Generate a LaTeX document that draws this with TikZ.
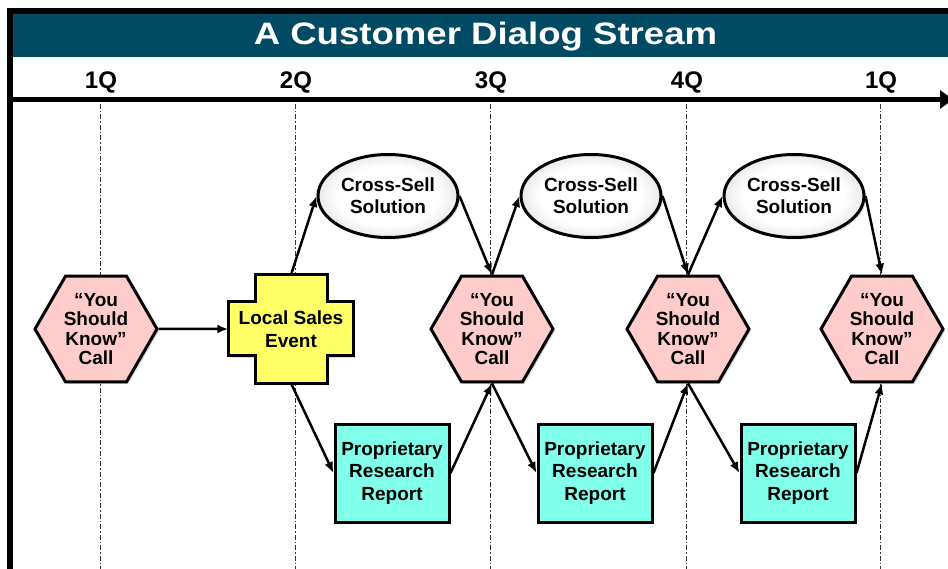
\documentclass[tikz,border=0pt]{standalone}
\usepackage{fontspec}
\setmainfont{Liberation Sans}
\newfontfamily\titlefont[FakeStretch=1.18]{Liberation Sans}
\usetikzlibrary{arrows.meta}
\usetikzlibrary{shapes.geometric}
\usetikzlibrary{shadows}

\definecolor{titlebar}{RGB}{1,74,100}
\definecolor{callpink}{RGB}{255,204,204}
\definecolor{eventyellow}{RGB}{255,255,102}
\definecolor{reportaqua}{RGB}{128,255,234}

\pgfdeclareradialshading{xsellshade}{\pgfpoint{0bp}{0bp}}{color(0bp)=(white); color(18bp)=(white); color(50bp)=(black!38); color(100bp)=(black!38)}

\tikzset{
  softshadow/.style={drop shadow={opacity=0.3, shadow xshift=2pt, shadow yshift=-2pt}},
  boxline/.style={draw, line width=3pt},
  title/.style={font=\titlefont\bfseries\fontsize{31}{32}\selectfont, text=white, anchor=base},
  quarter/.style={font=\bfseries\fontsize{24}{26}\selectfont, anchor=base},
  qline/.style={line width=0.8pt, black!80, dash pattern=on 5pt off 2pt on 1.5pt off 2pt},
  axis/.style={line width=5pt, -{Triangle[length=13pt,width=18pt]}},
  call/.style={boxline, softshadow, fill=callpink, regular polygon, regular polygon sides=6,
    minimum size=122pt, inner sep=0pt, align=center, font=\bfseries\fontsize{19}{19.5}\selectfont},
  eventshape/.style={boxline, softshadow, fill=eventyellow},
  event/.style={minimum width=125pt, minimum height=108pt, inner sep=0pt, align=center,
    font=\bfseries\fontsize{19}{23}\selectfont},
  xsell/.style={boxline, softshadow, ellipse, shading=xsellshade, minimum width=140pt,
    minimum height=83pt, inner sep=0pt, align=center, font=\bfseries\fontsize{19}{22}\selectfont},
  report/.style={boxline, softshadow, fill=reportaqua, rectangle, minimum width=114pt,
    minimum height=98pt, inner sep=0pt, align=center, font=\bfseries\fontsize{19}{22.5}\selectfont},
  flow/.style={line width=2.5pt, -{Latex[length=11pt,width=9pt]}},
}

\begin{document}
\begin{tikzpicture}[x=1pt, y=-1pt]
\useasboundingbox (0,0) rectangle (948,569);

% title bar
\fill[titlebar] (13,14) rectangle (948,57);
\node[title] (title) at (485.5,45) {A Customer Dialog Stream};

% frame and time axis
\coordinate (frame-bottom) at (10,569);
\coordinate (frame-corner) at (10,11);
\coordinate (frame-right) at (948,11);
\draw[line width=6pt] (frame-bottom) -- (frame-corner) -- (frame-right);
\coordinate (axis-start) at (10,99.5);
\coordinate (axis-end) at (953,99.5);
\draw[axis] (axis-start) -- (axis-end);

\node[quarter] (q-1) at (101,89) {1Q};
\node[quarter] (q-2) at (296,89) {2Q};
\node[quarter] (q-3) at (491,89) {3Q};
\node[quarter] (q-4) at (687,89) {4Q};
\node[quarter] (q-5) at (881,89) {1Q};

\draw[qline] (100,104) -- (100,569);
\draw[qline] (295,104) -- (295,569);
\draw[qline] (490,104) -- (490,569);
\draw[qline] (686,104) -- (686,569);
\draw[qline] (880,104) -- (880,569);

% calls
\node[call] (call-1) at (96,329) {“You\\Should\\Know”\\Call};
\node[call] (call-2) at (492,329) {“You\\Should\\Know”\\Call};
\node[call] (call-3) at (688,329) {“You\\Should\\Know”\\Call};
\node[call] (call-4) at (882,329) {“You\\Should\\Know”\\Call};

% local sales event
\filldraw[eventshape] (255,275) -- (327,275) -- (327,302) -- (353,302) -- (353,356) -- (327,356)
  -- (327,383) -- (255,383) -- (255,356) -- (228,356) -- (228,302) -- (255,302) -- cycle;
\node[event] (event) at (291,329) {Local Sales\\Event};

% cross-sell and reports
\node[xsell] (xsell-1) at (388,196) {Cross-Sell\\Solution};
\node[xsell] (xsell-2) at (591,196) {Cross-Sell\\Solution};
\node[xsell] (xsell-3) at (794,196) {Cross-Sell\\Solution};

\node[report] (report-1) at (392,473) {Proprietary\\Research\\Report};
\node[report] (report-2) at (595,473) {Proprietary\\Research\\Report};
\node[report] (report-3) at (798,473) {Proprietary\\Research\\Report};

\draw[flow] (call-1.east) -- (event.west);
\draw[flow] (event.north) -- (xsell-1.west);
\draw[flow] (event.south) -- (report-1.west);
\draw[flow] (xsell-1.east) -- (call-2.north);
\draw[flow] (report-1.east) -- (call-2.south);

\draw[flow] (call-2.north) -- (xsell-2.west);
\draw[flow] (call-2.south) -- (report-2.west);
\draw[flow] (xsell-2.east) -- (call-3.north);
\draw[flow] (report-2.east) -- (call-3.south);

\draw[flow] (call-3.north) -- (xsell-3.west);
\draw[flow] (call-3.south) -- (report-3.west);
\draw[flow] (xsell-3.east) -- (call-4.north);
\draw[flow] (report-3.east) -- (call-4.south);

\end{tikzpicture}
\end{document}
